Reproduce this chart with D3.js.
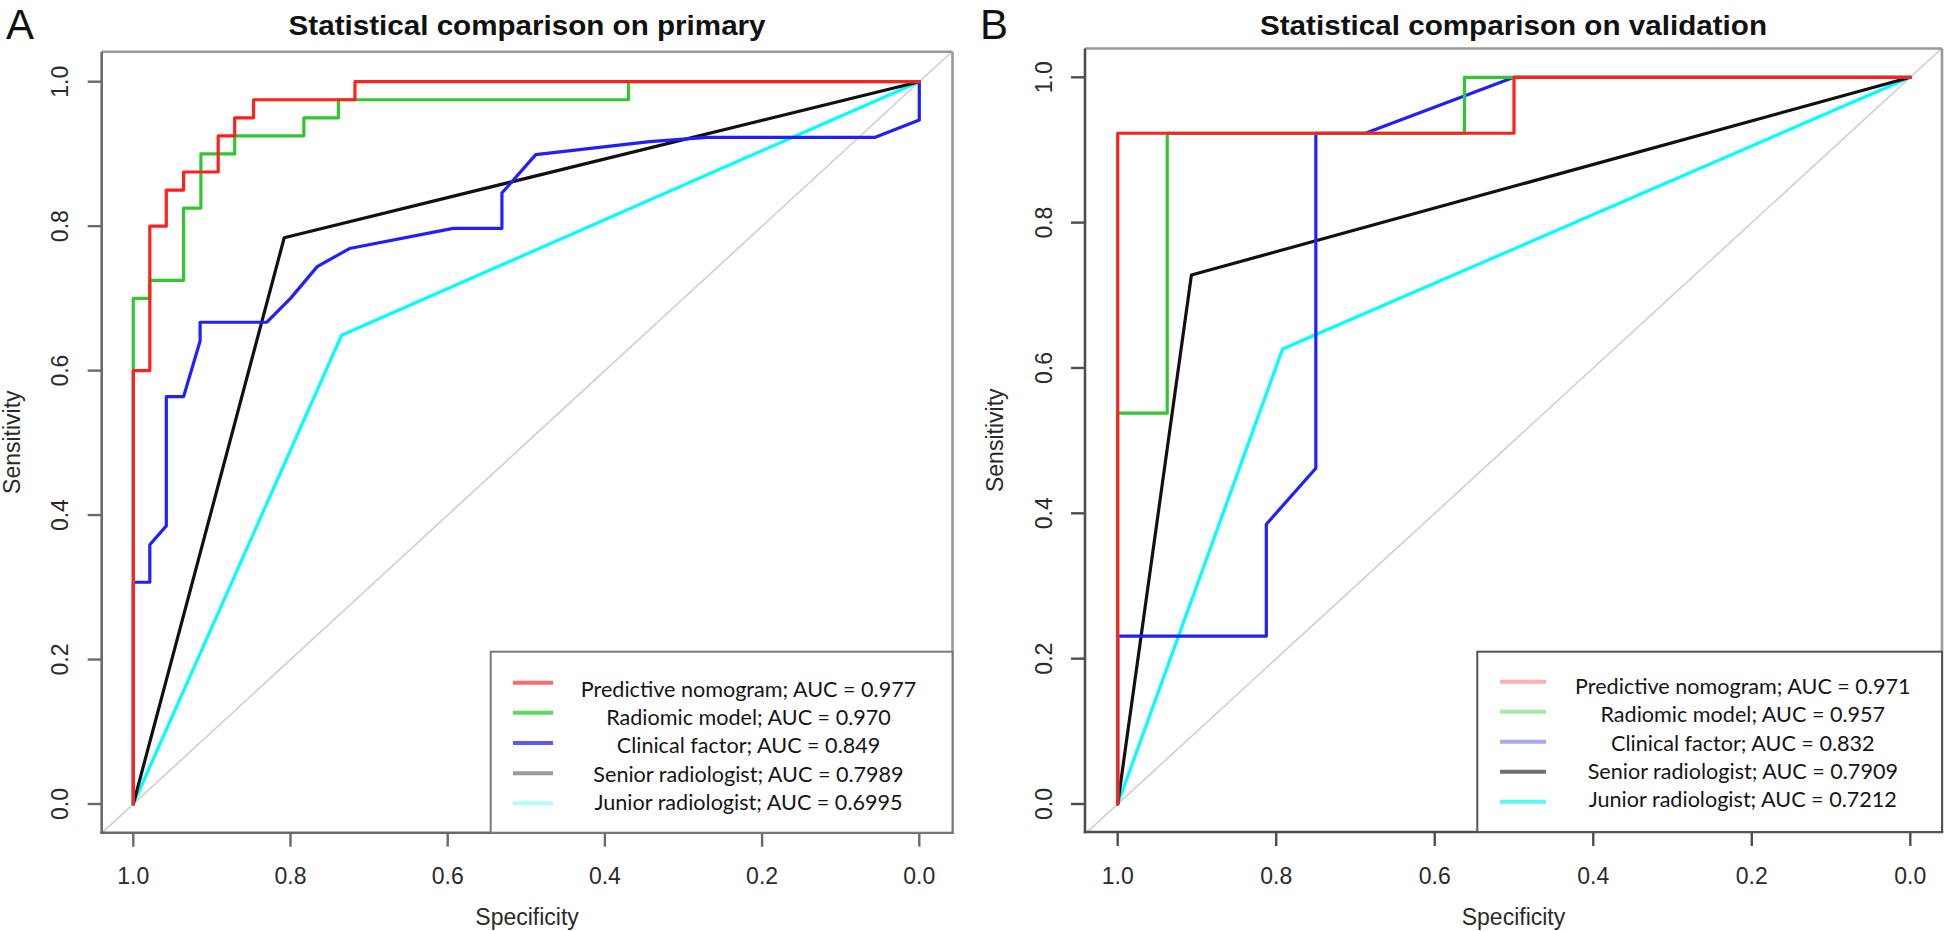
<!DOCTYPE html>
<html><head><meta charset="utf-8">
<script src="https://cdn.jsdelivr.net/npm/d3@7"></script>
<style>body{margin:0;background:#fff}svg{display:block}</style>
</head><body>
<svg id="chart" width="1945" height="931"></svg>
<script>
// ---------------- DATA ----------------
const seriesNames = ["Predictive nomogram", "Radiomic model", "Clinical factor", "Senior radiologist", "Junior radiologist"];
const aucPrimary = ["0.977", "0.970", "0.849", "0.7989", "0.6995"];
const aucValidation = ["0.971", "0.957", "0.832", "0.7909", "0.7212"];
const tickValues = [1.0, 0.8, 0.6, 0.4, 0.2, 0.0];
const tickLabels = ["1.0", "0.8", "0.6", "0.4", "0.2", "0.0"];

// Panel A (primary) — specificity / sensitivity pairs
const specA_nomogram = [1, 1, 0.979, 0.979, 0.958, 0.958, 0.936, 0.936, 0.892, 0.892, 0.871, 0.871, 0.847, 0.847, 0.718, 0.718, 0];
const sensA_nomogram = [0, 0.60, 0.60, 0.80, 0.80, 0.85, 0.85, 0.875, 0.875, 0.925, 0.925, 0.95, 0.95, 0.975, 0.975, 1, 1];
const specA_radiomic = [1, 1, 0.979, 0.979, 0.936, 0.936, 0.914, 0.914, 0.871, 0.871, 0.783, 0.783, 0.739, 0.739, 0.370, 0.370, 0];
const sensA_radiomic = [0, 0.70, 0.70, 0.725, 0.725, 0.825, 0.825, 0.90, 0.90, 0.925, 0.925, 0.95, 0.95, 0.975, 0.975, 1, 1];
const specA_clinical = [1, 1, 0.979, 0.979, 0.958, 0.958, 0.936, 0.915, 0.915, 0.830, 0.800, 0.766, 0.725, 0.593, 0.531, 0.531, 0.488, 0.343, 0.270, 0.056, 0, 0];
const sensA_clinical = [0, 0.307, 0.307, 0.359, 0.385, 0.564, 0.564, 0.641, 0.667, 0.667, 0.700, 0.744, 0.769, 0.797, 0.797, 0.846, 0.899, 0.917, 0.923, 0.923, 0.947, 1];
const specA_senior = [1, 0.808, 0];
const sensA_senior = [0, 0.784, 1];
const specA_junior = [1, 0.735, 0];
const sensA_junior = [0, 0.649, 1];

// Panel B (validation)
const specB_nomogram = [1, 1, 0.5, 0.5, 0];
const sensB_nomogram = [0, 0.923, 0.923, 1, 1];
const specB_radiomic = [1, 1, 0.9375, 0.9375, 0.5625, 0.5625, 0];
const sensB_radiomic = [0, 0.538, 0.538, 0.923, 0.923, 1, 1];
const specB_clinical = [1, 1, 0.8125, 0.8125, 0.75, 0.75, 0.6875, 0.5, 0];
const sensB_clinical = [0, 0.231, 0.231, 0.385, 0.462, 0.923, 0.923, 1, 1];
const specB_senior = [1, 0.907, 0];
const sensB_senior = [0, 0.728, 1];
const specB_junior = [1, 0.792, 0];
const sensB_junior = [0, 0.626, 1];

// ---------------- STYLE / LAYOUT ----------------
const curveColors = ["#ff2020", "#30c830", "#2020ff", "#111111", "#00ffff"];
const legendColorsA = ["#ff6a6a", "#5ed85e", "#5a5aee", "#9a9a9a", "#b4fbfb"];
const legendColorsB = ["#ffb0b0", "#a8e8a8", "#a8a8f8", "#707070", "#5ef5f5"];

const panels = [
  {
    letter: "A", letterX: 6,
    title: "Statistical comparison on primary", titleWidth: 477,
    box: {l: 101.7, r: 952.5, t: 51.7, b: 832.7},
    xRange: [133.3, 919.3], yRange: [804, 81.7],
    axisColor: "#6a6a6a", edgeColor: "#9a9a9a",
    ylabX: 19.5,
    curves: [
      [specA_nomogram, sensA_nomogram], [specA_radiomic, sensA_radiomic], [specA_clinical, sensA_clinical],
      [specA_senior, sensA_senior], [specA_junior, sensA_junior]
    ],
    auc: aucPrimary, legendColors: legendColorsA,
    legend: {l: 490.7, t: 651.7, r: 952.5, b: 832.7, lx0: 513, lx1: 553, ly0: 682.7, ldy: 30.15, tx: 748.5, ty0: 696.7, tdy: 28.3, border: "#7a7a7a"}
  },
  {
    letter: "B", letterX: 980,
    title: "Statistical comparison on validation", titleWidth: 507,
    box: {l: 1085, r: 1942, t: 48.5, b: 832},
    xRange: [1117.7, 1910.3], yRange: [804, 77.3],
    axisColor: "#4e4e4e", edgeColor: "#9a9a9a",
    ylabX: 1003,
    curves: [
      [specB_nomogram, sensB_nomogram], [specB_radiomic, sensB_radiomic], [specB_clinical, sensB_clinical],
      [specB_senior, sensB_senior], [specB_junior, sensB_junior]
    ],
    auc: aucValidation, legendColors: legendColorsB,
    legend: {l: 1477.3, t: 651.7, r: 1942, b: 832, lx0: 1500, lx1: 1546, ly0: 681.7, ldy: 30.0, tx: 1742.8, ty0: 694, tdy: 28.3, border: "#555555"}
  }
];

const svg = d3.select("#chart");
const FONT = "'Liberation Sans', Arial, Helvetica, sans-serif";

panels.forEach((p, pi) => {
  const g = svg.append("g");
  const x = d3.scaleLinear().domain([1, 0]).range(p.xRange);
  const y = d3.scaleLinear().domain([0, 1]).range(p.yRange);
  const b = p.box;

  const clipId = "clip" + pi;
  svg.append("defs").append("clipPath").attr("id", clipId)
    .append("rect").attr("x", b.l).attr("y", b.t).attr("width", b.r - b.l).attr("height", b.b - b.t);

  // Panel letter
  g.append("text").attr("x", p.letterX).attr("y", 38.5)
    .attr("font-family", FONT).attr("font-size", 42).attr("fill", "#111").text(p.letter);

  // Title
  g.append("text").attr("x", (b.l + b.r) / 2).attr("y", 35)
    .attr("text-anchor", "middle").attr("font-family", FONT).attr("font-weight", "bold")
    .attr("font-size", 28).attr("fill", "#111")
    .attr("textLength", p.titleWidth).attr("lengthAdjust", "spacingAndGlyphs")
    .text(p.title);

  // Diagonal reference line
  const line = d3.line().x(d => x(d[0])).y(d => y(d[1]));
  g.append("path").attr("clip-path", `url(#${clipId})`)
    .attr("d", line([[1.2, -0.2], [-0.2, 1.2]]))
    .attr("fill", "none").attr("stroke", "#cfcfcf").attr("stroke-width", 1.6);

  // Curves (drawn in reverse so the first series sits on top)
  const curveLine = d3.line().x(d => x(d.s)).y(d => y(d.v));
  for (let i = p.curves.length - 1; i >= 0; i--) {
    const [spec, sens] = p.curves[i];
    const pts = spec.map((s, k) => ({s: s, v: sens[k]}));
    g.append("path").attr("d", curveLine(pts))
      .attr("fill", "none").attr("stroke", curveColors[i]).attr("stroke-width", 3.2)
      .attr("stroke-linejoin", "round").attr("stroke-linecap", "round");
  }

  // Box: top & right lighter, left & bottom darker (axes)
  g.append("line").attr("x1", b.l).attr("x2", b.r).attr("y1", b.t).attr("y2", b.t)
    .attr("stroke", p.edgeColor).attr("stroke-width", 2.6);
  g.append("line").attr("x1", b.r).attr("x2", b.r).attr("y1", b.t).attr("y2", b.b)
    .attr("stroke", p.edgeColor).attr("stroke-width", 2.6);
  g.append("line").attr("x1", b.l).attr("x2", b.l).attr("y1", b.t).attr("y2", b.b + 1.3)
    .attr("stroke", p.axisColor).attr("stroke-width", 2.6);
  g.append("line").attr("x1", b.l - 1.3).attr("x2", b.r + 1.3).attr("y1", b.b).attr("y2", b.b)
    .attr("stroke", p.axisColor).attr("stroke-width", 2.6);

  // X axis ticks and labels
  tickValues.forEach((v, k) => {
    g.append("line").attr("x1", x(v)).attr("x2", x(v)).attr("y1", b.b).attr("y2", b.b + 14)
      .attr("stroke", p.axisColor).attr("stroke-width", 2.4);
    g.append("text").attr("x", x(v)).attr("y", 883.5).attr("text-anchor", "middle")
      .attr("font-family", FONT).attr("font-size", 23).attr("fill", "#2a2a2a").text(tickLabels[k]);
  });
  // Y axis ticks and labels (rotated)
  tickValues.forEach((v, k) => {
    g.append("line").attr("x1", b.l).attr("x2", b.l - 14).attr("y1", y(v)).attr("y2", y(v))
      .attr("stroke", p.axisColor).attr("stroke-width", 2.4);
    g.append("text").attr("transform", `translate(${b.l - 33.5},${y(v)}) rotate(-90)`)
      .attr("text-anchor", "middle").attr("font-family", FONT).attr("font-size", 23)
      .attr("fill", "#2a2a2a").text(tickLabels[k]);
  });

  // Axis titles
  g.append("text").attr("x", (b.l + b.r) / 2).attr("y", 924.5).attr("text-anchor", "middle")
    .attr("font-family", FONT).attr("font-size", 23).attr("fill", "#2a2a2a").text("Specificity");
  g.append("text").attr("transform", `translate(${p.ylabX},${(b.t + b.b) / 2}) rotate(-90)`)
    .attr("text-anchor", "middle").attr("font-family", FONT).attr("font-size", 23)
    .attr("fill", "#2a2a2a").text("Sensitivity");

  // Legend
  const L = p.legend;
  g.append("rect").attr("x", L.l).attr("y", L.t).attr("width", L.r - L.l).attr("height", L.b - L.t)
    .attr("fill", "#fff").attr("stroke", L.border).attr("stroke-width", 2);
  const texts = [];
  seriesNames.forEach((name, i) => {
    g.append("line").attr("x1", L.lx0).attr("x2", L.lx1)
      .attr("y1", L.ly0 + i * L.ldy).attr("y2", L.ly0 + i * L.ldy)
      .attr("stroke", p.legendColors[i]).attr("stroke-width", 4);
    const t = g.append("text").attr("x", L.tx).attr("y", L.ty0 + i * L.tdy)
      .attr("text-anchor", "middle").attr("font-family", "Lato, 'Open Sans', sans-serif")
      .attr("font-size", 21).attr("fill", "#151515")
      .text(`${name}; AUC = ${p.auc[i]}`);
    texts.push(t);
  });
  // fit legend font so the first row spans the measured width
  const w0 = texts[0].node().getComputedTextLength();
  const fs = 21 * 335.7 / w0;
  texts.forEach(t => t.attr("font-size", fs));
});
</script>
</body></html>
